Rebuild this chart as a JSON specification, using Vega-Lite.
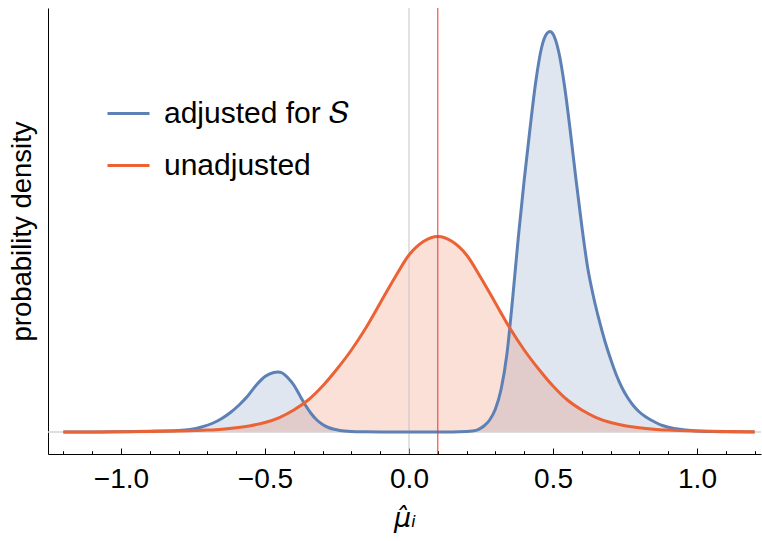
{
  "$schema": "https://vega.github.io/schema/vega-lite/v6.json",
  "width": 713,
  "height": 446,
  "autosize": {"type": "none"},
  "padding": {"left": 48, "top": 8, "right": 1, "bottom": 87},
  "background": "white",
  "config": {
    "view": {"stroke": null},
    "font": "Liberation Sans",
    "axis": {
      "labelFont": "Liberation Sans",
      "titleFont": "Liberation Sans",
      "titleFontWeight": "normal",
      "titleColor": "#000000",
      "labelColor": "#000000",
      "domainColor": "#000000",
      "domainWidth": 1,
      "tickColor": "#000000",
      "labelOverlap": false,
      "grid": false
    }
  },
  "resolve": {"axis": {"x": "independent"}},
  "datasets": {
    "curves": [
      {"x": -1.2, "density": 0, "series": "adjusted for 𝑆"},
      {"x": -1.1, "density": 0, "series": "adjusted for 𝑆"},
      {"x": -1.0, "density": 0.0027, "series": "adjusted for 𝑆"},
      {"x": -0.9, "density": 0.0071, "series": "adjusted for 𝑆"},
      {"x": -0.8, "density": 0.0133, "series": "adjusted for 𝑆"},
      {"x": -0.76, "density": 0.0221, "series": "adjusted for 𝑆"},
      {"x": -0.72, "density": 0.0442, "series": "adjusted for 𝑆"},
      {"x": -0.68, "density": 0.0796, "series": "adjusted for 𝑆"},
      {"x": -0.65, "density": 0.1195, "series": "adjusted for 𝑆"},
      {"x": -0.62, "density": 0.1726, "series": "adjusted for 𝑆"},
      {"x": -0.59, "density": 0.2389, "series": "adjusted for 𝑆"},
      {"x": -0.56, "density": 0.3186, "series": "adjusted for 𝑆"},
      {"x": -0.53, "density": 0.4159, "series": "adjusted for 𝑆"},
      {"x": -0.5, "density": 0.4912, "series": "adjusted for 𝑆"},
      {"x": -0.47, "density": 0.5265, "series": "adjusted for 𝑆"},
      {"x": -0.455, "density": 0.531, "series": "adjusted for 𝑆"},
      {"x": -0.44, "density": 0.5221, "series": "adjusted for 𝑆"},
      {"x": -0.42, "density": 0.4779, "series": "adjusted for 𝑆"},
      {"x": -0.4, "density": 0.4159, "series": "adjusted for 𝑆"},
      {"x": -0.38, "density": 0.3274, "series": "adjusted for 𝑆"},
      {"x": -0.36, "density": 0.2389, "series": "adjusted for 𝑆"},
      {"x": -0.34, "density": 0.1637, "series": "adjusted for 𝑆"},
      {"x": -0.32, "density": 0.1062, "series": "adjusted for 𝑆"},
      {"x": -0.3, "density": 0.0664, "series": "adjusted for 𝑆"},
      {"x": -0.28, "density": 0.0398, "series": "adjusted for 𝑆"},
      {"x": -0.26, "density": 0.0239, "series": "adjusted for 𝑆"},
      {"x": -0.24, "density": 0.0142, "series": "adjusted for 𝑆"},
      {"x": -0.2, "density": 0.0053, "series": "adjusted for 𝑆"},
      {"x": -0.15, "density": 0.0018, "series": "adjusted for 𝑆"},
      {"x": -0.1, "density": 0.0004, "series": "adjusted for 𝑆"},
      {"x": -0.05, "density": 0, "series": "adjusted for 𝑆"},
      {"x": 0.0, "density": 0, "series": "adjusted for 𝑆"},
      {"x": 0.05, "density": 0, "series": "adjusted for 𝑆"},
      {"x": 0.1, "density": 0, "series": "adjusted for 𝑆"},
      {"x": 0.15, "density": 0, "series": "adjusted for 𝑆"},
      {"x": 0.2, "density": 0.0035, "series": "adjusted for 𝑆"},
      {"x": 0.22, "density": 0.0088, "series": "adjusted for 𝑆"},
      {"x": 0.24, "density": 0.0221, "series": "adjusted for 𝑆"},
      {"x": 0.26, "density": 0.0531, "series": "adjusted for 𝑆"},
      {"x": 0.28, "density": 0.1062, "series": "adjusted for 𝑆"},
      {"x": 0.3, "density": 0.2035, "series": "adjusted for 𝑆"},
      {"x": 0.32, "density": 0.3805, "series": "adjusted for 𝑆"},
      {"x": 0.34, "density": 0.6903, "series": "adjusted for 𝑆"},
      {"x": 0.36, "density": 1.1858, "series": "adjusted for 𝑆"},
      {"x": 0.38, "density": 1.7345, "series": "adjusted for 𝑆"},
      {"x": 0.4, "density": 2.2301, "series": "adjusted for 𝑆"},
      {"x": 0.42, "density": 2.6814, "series": "adjusted for 𝑆"},
      {"x": 0.44, "density": 3.0973, "series": "adjusted for 𝑆"},
      {"x": 0.46, "density": 3.3982, "series": "adjusted for 𝑆"},
      {"x": 0.48, "density": 3.531, "series": "adjusted for 𝑆"},
      {"x": 0.49, "density": 3.5442, "series": "adjusted for 𝑆"},
      {"x": 0.5, "density": 3.5221, "series": "adjusted for 𝑆"},
      {"x": 0.52, "density": 3.3628, "series": "adjusted for 𝑆"},
      {"x": 0.54, "density": 3.0619, "series": "adjusted for 𝑆"},
      {"x": 0.56, "density": 2.6637, "series": "adjusted for 𝑆"},
      {"x": 0.58, "density": 2.2301, "series": "adjusted for 𝑆"},
      {"x": 0.6, "density": 1.823, "series": "adjusted for 𝑆"},
      {"x": 0.62, "density": 1.4602, "series": "adjusted for 𝑆"},
      {"x": 0.64, "density": 1.2035, "series": "adjusted for 𝑆"},
      {"x": 0.66, "density": 0.9912, "series": "adjusted for 𝑆"},
      {"x": 0.68, "density": 0.8053, "series": "adjusted for 𝑆"},
      {"x": 0.7, "density": 0.646, "series": "adjusted for 𝑆"},
      {"x": 0.72, "density": 0.5044, "series": "adjusted for 𝑆"},
      {"x": 0.74, "density": 0.3894, "series": "adjusted for 𝑆"},
      {"x": 0.76, "density": 0.3009, "series": "adjusted for 𝑆"},
      {"x": 0.78, "density": 0.2301, "series": "adjusted for 𝑆"},
      {"x": 0.8, "density": 0.177, "series": "adjusted for 𝑆"},
      {"x": 0.82, "density": 0.1372, "series": "adjusted for 𝑆"},
      {"x": 0.84, "density": 0.1062, "series": "adjusted for 𝑆"},
      {"x": 0.86, "density": 0.0796, "series": "adjusted for 𝑆"},
      {"x": 0.88, "density": 0.0575, "series": "adjusted for 𝑆"},
      {"x": 0.92, "density": 0.031, "series": "adjusted for 𝑆"},
      {"x": 0.96, "density": 0.0177, "series": "adjusted for 𝑆"},
      {"x": 1.0, "density": 0.0088, "series": "adjusted for 𝑆"},
      {"x": 1.05, "density": 0.0044, "series": "adjusted for 𝑆"},
      {"x": 1.1, "density": 0.0018, "series": "adjusted for 𝑆"},
      {"x": 1.2, "density": 0, "series": "adjusted for 𝑆"},

      {"x": -1.2, "density": 0.0004, "series": "unadjusted"},
      {"x": -1.1, "density": 0.0009, "series": "unadjusted"},
      {"x": -1.0, "density": 0.0018, "series": "unadjusted"},
      {"x": -0.9, "density": 0.0035, "series": "unadjusted"},
      {"x": -0.8, "density": 0.008, "series": "unadjusted"},
      {"x": -0.7, "density": 0.0168, "series": "unadjusted"},
      {"x": -0.65, "density": 0.0248, "series": "unadjusted"},
      {"x": -0.6, "density": 0.0372, "series": "unadjusted"},
      {"x": -0.55, "density": 0.0558, "series": "unadjusted"},
      {"x": -0.5, "density": 0.0841, "series": "unadjusted"},
      {"x": -0.45, "density": 0.1283, "series": "unadjusted"},
      {"x": -0.4, "density": 0.1947, "series": "unadjusted"},
      {"x": -0.35, "density": 0.2832, "series": "unadjusted"},
      {"x": -0.3, "density": 0.4071, "series": "unadjusted"},
      {"x": -0.25, "density": 0.5575, "series": "unadjusted"},
      {"x": -0.2, "density": 0.7257, "series": "unadjusted"},
      {"x": -0.15, "density": 0.9204, "series": "unadjusted"},
      {"x": -0.1, "density": 1.1416, "series": "unadjusted"},
      {"x": -0.05, "density": 1.3628, "series": "unadjusted"},
      {"x": 0.0, "density": 1.5664, "series": "unadjusted"},
      {"x": 0.05, "density": 1.6858, "series": "unadjusted"},
      {"x": 0.1, "density": 1.7301, "series": "unadjusted"},
      {"x": 0.15, "density": 1.6858, "series": "unadjusted"},
      {"x": 0.2, "density": 1.5664, "series": "unadjusted"},
      {"x": 0.25, "density": 1.3628, "series": "unadjusted"},
      {"x": 0.3, "density": 1.1416, "series": "unadjusted"},
      {"x": 0.35, "density": 0.9204, "series": "unadjusted"},
      {"x": 0.4, "density": 0.7257, "series": "unadjusted"},
      {"x": 0.45, "density": 0.5575, "series": "unadjusted"},
      {"x": 0.5, "density": 0.4071, "series": "unadjusted"},
      {"x": 0.55, "density": 0.2832, "series": "unadjusted"},
      {"x": 0.6, "density": 0.1947, "series": "unadjusted"},
      {"x": 0.65, "density": 0.1283, "series": "unadjusted"},
      {"x": 0.7, "density": 0.0841, "series": "unadjusted"},
      {"x": 0.75, "density": 0.0558, "series": "unadjusted"},
      {"x": 0.8, "density": 0.0372, "series": "unadjusted"},
      {"x": 0.85, "density": 0.0248, "series": "unadjusted"},
      {"x": 0.9, "density": 0.0168, "series": "unadjusted"},
      {"x": 1.0, "density": 0.008, "series": "unadjusted"},
      {"x": 1.1, "density": 0.0035, "series": "unadjusted"},
      {"x": 1.2, "density": 0.0018, "series": "unadjusted"}
    ]
  },
  "layer": [
    {
      "data": {"name": "curves"},
      "transform": [{"filter": "datum.series === 'adjusted for 𝑆'"}],
      "mark": {"type": "area", "interpolate": "monotone", "fill": "#5E81B5", "fillOpacity": 0.2},
      "encoding": {
        "x": {
          "field": "x", "type": "quantitative",
          "scale": {"domain": [-1.2535, 1.2222], "nice": false, "zero": false},
          "axis": {
            "orient": "bottom",
            "title": "μ̂ᵢ",
            "titleFont": "DejaVu Sans",
            "titleFontSize": 27,
            "titleFontStyle": "italic",
            "titlePadding": 12,
            "values": [-1.0, -0.5, 0, 0.5, 1.0],
            "format": ".1f",
            "labelFontSize": 28,
            "labelFlush": false,
            "labelOverlap": false,
            "labelPadding": 17,
            "tickSize": -6,
            "tickWidth": 1
          }
        },
        "y": {
          "field": "density", "type": "quantitative", "stack": null,
          "scale": {"domain": [-0.1947, 3.7522], "nice": false, "zero": false},
          "axis": {
            "title": "probability density",
            "titleFontSize": 27.5,
            "titlePadding": 12,
            "ticks": false,
            "labels": false
          }
        }
      }
    },
    {
      "data": {"name": "curves"},
      "transform": [{"filter": "datum.series === 'unadjusted'"}],
      "mark": {"type": "area", "interpolate": "monotone", "fill": "#EB6235", "fillOpacity": 0.2},
      "encoding": {
        "x": {
          "field": "x", "type": "quantitative",
          "axis": {
            "orient": "bottom",
            "title": null,
            "values": [-1.2, -1.1, -1.0, -0.9, -0.8, -0.7, -0.6, -0.5, -0.4, -0.3, -0.2, -0.1, 0, 0.1, 0.2, 0.3, 0.4, 0.5, 0.6, 0.7, 0.8, 0.9, 1.0, 1.1, 1.2],
            "labels": false,
            "domain": false,
            "tickSize": -3.3,
            "tickWidth": 1
          }
        },
        "y": {"field": "density", "type": "quantitative", "stack": null}
      }
    },
    {
      "data": {"values": [{"x": 0}]},
      "mark": {"type": "rule", "color": "#c4c4c4", "strokeWidth": 1},
      "encoding": {
        "x": {"field": "x", "type": "quantitative", "axis": null}
      }
    },
    {
      "data": {"values": [{"density": 0}]},
      "mark": {"type": "rule", "color": "#d4d4d4", "strokeWidth": 1.5},
      "encoding": {
        "y": {"field": "density", "type": "quantitative"}
      }
    },
    {
      "data": {"name": "curves"},
      "mark": {"type": "line", "interpolate": "monotone", "strokeWidth": 3},
      "encoding": {
        "x": {"field": "x", "type": "quantitative", "axis": null},
        "y": {"field": "density", "type": "quantitative"},
        "stroke": {
          "field": "series", "type": "nominal",
          "scale": {"domain": ["adjusted for 𝑆", "unadjusted"], "range": ["#5E81B5", "#EB6235"]},
          "legend": {
            "title": null,
            "orient": "none",
            "legendX": 58,
            "legendY": 83,
            "padding": 0,
            "symbolType": "stroke",
            "symbolSize": 1764,
            "symbolStrokeWidth": 3,
            "labelFont": "Liberation Sans",
            "labelFontSize": 30,
            "labelColor": "#000000",
            "labelOffset": 13,
            "rowPadding": 14,
            "labelLimit": 400
          }
        }
      }
    },
    {
      "data": {"values": [{"x": 0.1}]},
      "mark": {"type": "rule", "color": "#ff2a2a", "strokeWidth": 1},
      "encoding": {
        "x": {"field": "x", "type": "quantitative", "axis": null}
      }
    }
  ]
}
